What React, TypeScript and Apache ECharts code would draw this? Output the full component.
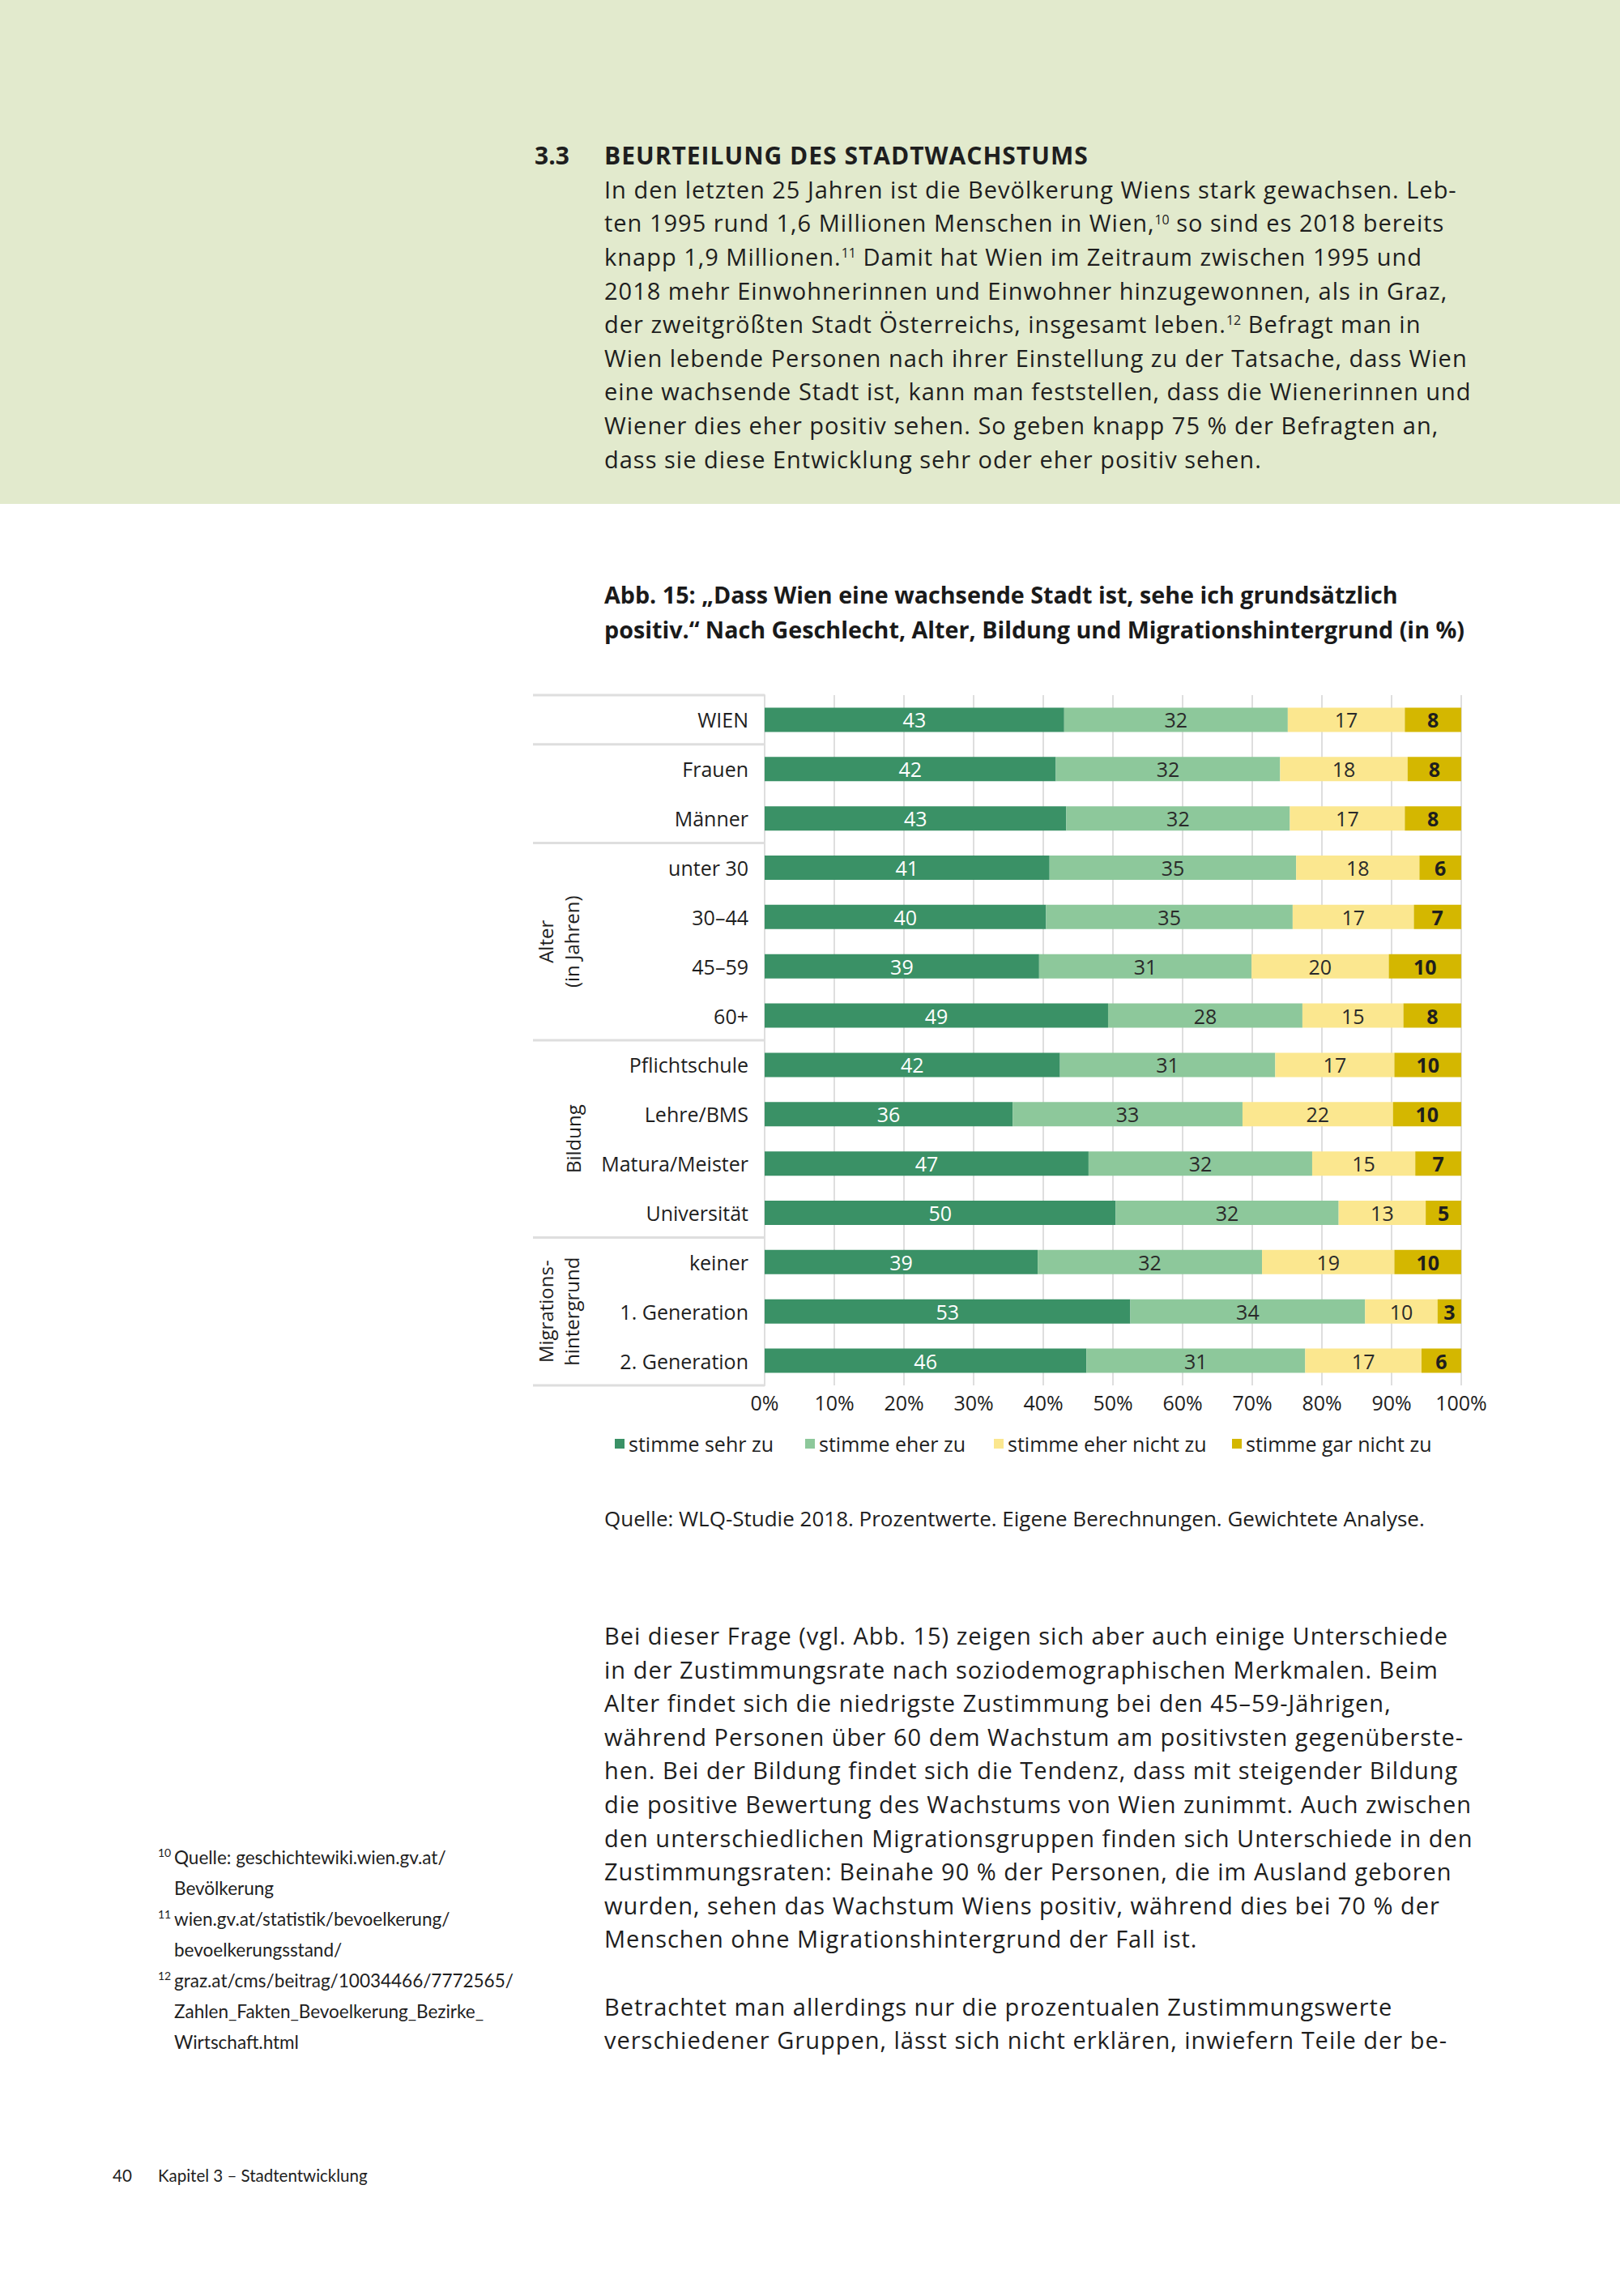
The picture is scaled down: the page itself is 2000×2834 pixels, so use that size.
import React, { useEffect, useRef } from "react";
import * as echarts from "echarts";

// ---------- DATA ----------
const categories = [
  "WIEN", "Frauen", "Männer", "unter 30", "30–44", "45–59", "60+",
  "Pflichtschule", "Lehre/BMS", "Matura/Meister", "Universität",
  "keiner", "1. Generation", "2. Generation",
];
const seriesNames = ["stimme sehr zu", "stimme eher zu", "stimme eher nicht zu", "stimme gar nicht zu"];
const sehrZu = [43.0, 41.8, 43.3, 40.9, 40.4, 39.4, 49.3, 42.4, 35.6, 46.5, 50.4, 39.2, 52.5, 46.2];
const eherZu = [32.1, 32.2, 32.1, 35.4, 35.4, 30.5, 27.9, 30.9, 33.0, 32.1, 32.0, 32.2, 33.7, 31.4];
const eherNichtZu = [16.8, 18.3, 16.5, 17.7, 17.4, 19.7, 14.5, 17.1, 21.6, 14.8, 12.5, 19.0, 10.4, 16.7];
const garNichtZu = [8.1, 7.7, 8.1, 6.0, 6.8, 10.4, 8.3, 9.6, 9.8, 6.6, 5.1, 9.6, 3.4, 5.7];
const xTicks = { min: 0, max: 100, interval: 10 };
// groups: [label, first row index, last row index]
const groups: [string, number, number][] = [
  ["Alter\n(in Jahren)", 3, 6],
  ["Bildung", 7, 10],
  ["Migrations-\nhintergrund", 11, 13],
];
const separatorsAfter = [-1, 0, 2, 6, 10, 13];

const chartTitle = [
  "Abb. 15: „Dass Wien eine wachsende Stadt ist, sehe ich grundsätzlich",
  "positiv.“ Nach Geschlecht, Alter, Bildung und Migrationshintergrund (in %)",
];
const sourceText = "Quelle: WLQ-Studie 2018. Prozentwerte. Eigene Berechnungen. Gewichtete Analyse.";

const sectionNumber = "3.3";
const sectionTitle = "BEURTEILUNG DES STADTWACHSTUMS";
const introLines = [
  "In den letzten 25 Jahren ist die Bevölkerung Wiens stark gewachsen. Leb-",
  "ten 1995 rund 1,6 Millionen Menschen in Wien,^10^ so sind es 2018 bereits",
  "knapp 1,9 Millionen.^11^ Damit hat Wien im Zeitraum zwischen 1995 und",
  "2018 mehr Einwohnerinnen und Einwohner hinzugewonnen, als in Graz,",
  "der zweitgrößten Stadt Österreichs, insgesamt leben.^12^ Befragt man in",
  "Wien lebende Personen nach ihrer Einstellung zu der Tatsache, dass Wien",
  "eine wachsende Stadt ist, kann man feststellen, dass die Wienerinnen und",
  "Wiener dies eher positiv sehen. So geben knapp 75 % der Befragten an,",
  "dass sie diese Entwicklung sehr oder eher positiv sehen.",
];
const bodyLines = [
  "Bei dieser Frage (vgl. Abb. 15) zeigen sich aber auch einige Unterschiede",
  "in der Zustimmungsrate nach soziodemographischen Merkmalen. Beim",
  "Alter findet sich die niedrigste Zustimmung bei den 45–59-Jährigen,",
  "während Personen über 60 dem Wachstum am positivsten gegenüberste-",
  "hen. Bei der Bildung findet sich die Tendenz, dass mit steigender Bildung",
  "die positive Bewertung des Wachstums von Wien zunimmt. Auch zwischen",
  "den unterschiedlichen Migrationsgruppen finden sich Unterschiede in den",
  "Zustimmungsraten: Beinahe 90 % der Personen, die im Ausland geboren",
  "wurden, sehen das Wachstum Wiens positiv, während dies bei 70 % der",
  "Menschen ohne Migrationshintergrund der Fall ist.",
  "",
  "Betrachtet man allerdings nur die prozentualen Zustimmungswerte",
  "verschiedener Gruppen, lässt sich nicht erklären, inwiefern Teile der be-",
];
const footnotes: [string, string][] = [
  ["10", "Quelle: geschichtewiki.wien.gv.at/"],
  ["", "Bevölkerung"],
  ["11", "wien.gv.at/statistik/bevoelkerung/"],
  ["", "bevoelkerungsstand/"],
  ["12", "graz.at/cms/beitrag/10034466/7772565/"],
  ["", "Zahlen_Fakten_Bevoelkerung_Bezirke_"],
  ["", "Wirtschaft.html"],
];
const pageNumber = "40";
const footerText = "Kapitel 3 – Stadtentwicklung";

// ---------- STYLE / LAYOUT ----------
const COLORS = ["#3a9166", "#8dc89b", "#fbe78f", "#d4b700"];
const LABEL_COLORS = ["#ffffff", "#2a2a2a", "#2a2a2a", "#1e1e1e"];
const SANS = "'Open Sans', sans-serif";
const LATO = "Lato, 'Open Sans', sans-serif";
const GRID = { left: 304, top: 178, width: 860, height: 852 };
const legendLeft = [119, 354, 587, 881];

function renderSegments(s: string) {
  const parts = s.split("^");
  return parts.map((p, i) =>
    i % 2 === 1 ? (
      <span key={i} style={{ fontSize: "0.55em", position: "relative", top: "-0.62em", letterSpacing: 0 }}>{p}</span>
    ) : (
      <React.Fragment key={i}>{p}</React.Fragment>
    )
  );
}

function Line(props: {
  x: number; cy: number; size: number; lh?: number; weight?: string | number;
  family?: string; spacing?: number; color?: string; children: any;
}) {
  const lh = props.lh ?? props.size * 1.4;
  return (
    <div
      style={{
        position: "absolute",
        left: props.x,
        top: props.cy - lh / 2 - 0.09 * props.size,
        fontSize: props.size,
        lineHeight: lh + "px",
        fontWeight: props.weight ?? "normal",
        fontFamily: props.family ?? SANS,
        letterSpacing: props.spacing ?? 0,
        color: props.color ?? "#1e1e1e",
        whiteSpace: "nowrap",
      }}
    >
      {props.children}
    </div>
  );
}

function Chart() {
  const ref = useRef<HTMLDivElement>(null);
  useEffect(() => {
    if (!ref.current) return;
    const chart = echarts.init(ref.current, null, { renderer: "svg" });
    const band = GRID.height / categories.length;
    const values = [sehrZu, eherZu, eherNichtZu, garNichtZu];

    const graphic: any[] = [];
    separatorsAfter.forEach((k) => {
      const y = GRID.top + (k + 1) * band;
      graphic.push({
        type: "line",
        shape: { x1: 18, y1: y, x2: GRID.left, y2: y },
        style: { stroke: "#dedede", lineWidth: 3 },
        z: 1,
      });
    });
    groups.forEach(([label, a, b]) => {
      const cy = GRID.top + ((a + b + 1) / 2) * band;
      const twoLines = label.indexOf("\n") >= 0;
      graphic.push({
        type: "text",
        x: twoLines ? 49 : 67,
        y: cy,
        rotation: Math.PI / 2,
        style: {
          text: label,
          fill: "#1e1e1e",
          fontSize: 24,
          fontFamily: SANS,
          lineHeight: 32,
          align: "center",
          verticalAlign: "middle",
        },
      });
    });
    graphic.push({
      type: "text",
      x: 106,
      y: 1194,
      style: {
        text: sourceText,
        fill: "#1e1e1e",
        fontSize: 26,
        fontFamily: SANS,
        align: "left",
        verticalAlign: "middle",
      },
    });

    chart.setOption({
      animation: false,
      textStyle: { fontFamily: SANS },
      title: {
        text: chartTitle.join("\n"),
        left: 106,
        top: 32,
        padding: 0,
        textStyle: { fontFamily: SANS, fontWeight: "bold", fontSize: 28.7, lineHeight: 43, color: "#1a1a1a" },
      },
      legend: seriesNames.map((n, i) => ({
        data: [n],
        left: legendLeft[i],
        top: 1087,
        padding: 0,
        itemWidth: 12,
        itemHeight: 12,
        icon: "rect",
        selectedMode: false,
        textStyle: { fontSize: 25, color: "#1e1e1e", lineHeight: 30, fontFamily: SANS },
      })),
      grid: { ...GRID, containLabel: false },
      xAxis: {
        type: "value",
        min: xTicks.min,
        max: xTicks.max,
        interval: xTicks.interval,
        axisLine: { show: false },
        axisTick: { show: false },
        splitLine: { show: true, lineStyle: { color: "#dedede", width: 2 } },
        axisLabel: { formatter: "{value}%", fontSize: 25, color: "#1e1e1e", margin: 8, fontFamily: SANS },
      },
      yAxis: {
        type: "category",
        inverse: true,
        data: categories,
        axisLine: { show: true, lineStyle: { color: "#dedede", width: 2 } },
        axisTick: { show: false },
        axisLabel: { fontSize: 25, color: "#1e1e1e", margin: 20, fontFamily: SANS },
      },
      series: seriesNames.map((n, i) => ({
        name: n,
        type: "bar",
        stack: "total",
        barWidth: 30,
        data: values[i],
        itemStyle: { color: COLORS[i] },
        label: {
          show: true,
          position: "inside",
          formatter: (p: any) => String(Math.round(p.value)),
          fontSize: 25,
          fontFamily: SANS,
          color: LABEL_COLORS[i],
          fontWeight: i === 3 ? "bold" : "normal",
        },
      })),
      graphic,
    });
    return () => chart.dispose();
  }, []);
  return <div ref={ref} style={{ position: "absolute", left: 640, top: 680, width: 1200, height: 1240 }} />;
}

export default function App() {
  const bodyStep = 41.6;
  return (
    <div style={{ position: "absolute", left: 0, top: 0, width: 2000, height: 2834, background: "#ffffff", overflow: "hidden" }}>
      <div style={{ position: "absolute", left: 0, top: 0, width: 2000, height: 622, background: "#e2eacd" }} />
      <Line x={660} cy={195} size={30} weight="bold">{sectionNumber}</Line>
      <Line x={746} cy={195} size={30} weight="bold" spacing={1}>{sectionTitle}</Line>
      {introLines.map((l, i) => (
        <Line key={i} x={746} cy={236.7 + i * bodyStep} size={29} spacing={1.0}>{renderSegments(l)}</Line>
      ))}
      <Chart />
      {bodyLines.map((l, i) =>
        l ? (
          <Line key={i} x={746} cy={2022 + i * bodyStep} size={29} spacing={1.0}>{renderSegments(l)}</Line>
        ) : null
      )}
      {footnotes.map(([sup, txt], i) => (
        <React.Fragment key={i}>
          {sup ? (
            <Line x={195} cy={2288 + i * 37.9} size={14} family={LATO}>{sup}</Line>
          ) : null}
          <Line x={215} cy={2295 + i * 37.9} size={22.5} family={LATO}>{txt}</Line>
        </React.Fragment>
      ))}
      <Line x={139} cy={2687} size={20.5} family={LATO}>{pageNumber}</Line>
      <Line x={195} cy={2687} size={20.5} family={LATO}>{footerText}</Line>
    </div>
  );
}
